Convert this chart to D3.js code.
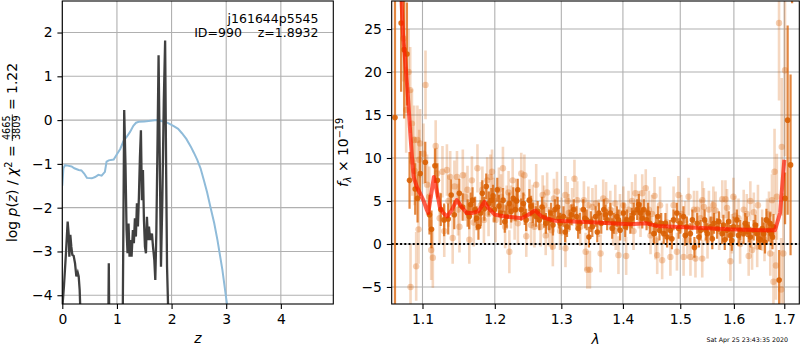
<!DOCTYPE html>
<meta charset="utf-8">
<body style="margin:0;background:#fff">
<script src="https://d3js.org/d3.v7.min.js"></script>
<script>
  // ---- left panel: p(z) ----
  var pzZ = [0.0, 0.02, 0.05, 0.1, 0.17, 0.22, 0.3, 0.35, 0.4, 0.45, 0.54, 0.6, 0.66, 0.72, 0.78, 0.81,
    0.85, 0.94, 1.0, 1.06, 1.12, 1.18, 1.24, 1.3, 1.35, 1.4, 1.5, 1.58, 1.73, 1.85, 1.92, 2.04, 2.12,
    2.19, 2.27, 2.35, 2.41, 2.47, 2.53, 2.59, 2.65, 2.71, 2.78, 2.84, 2.93, 3.0, 3.02];
  var pzLog = [-1.5, -1.1, -1.03, -1.04, -1.06, -1.1, -1.14, -1.15, -1.22, -1.32, -1.33, -1.3, -1.25,
    -1.27, -1.18, -0.95, -0.92, -0.9, -0.78, -0.66, -0.48, -0.38, -0.27, -0.13, -0.06, -0.04, -0.03,
    -0.02, 0.0, -0.03, -0.06, -0.14, -0.2, -0.3, -0.43, -0.6, -0.75, -0.91, -1.1, -1.37, -1.65, -1.98,
    -2.35, -2.74, -3.42, -4.07, -4.25];

  var chiZ = [0.0, 0.03, 0.067, 0.098, 0.116, 0.129, 0.147, 0.165, 0.184, 0.208, 0.233, 0.257, 0.282,
    0.3, 0.318, 0.33, 0.343, 0.45, 0.8, 0.84, 0.851, 0.862, 0.95, 1.084, 1.108, 1.133, 1.157, 1.176,
    1.194, 1.212, 1.231, 1.249, 1.268, 1.292, 1.31, 1.329, 1.347, 1.366, 1.384, 1.402, 1.421, 1.439,
    1.457, 1.476, 1.494, 1.513, 1.531, 1.549, 1.568, 1.586, 1.61, 1.641, 1.66, 1.684, 1.702, 1.721,
    1.745, 1.762, 1.782, 1.806, 1.831, 1.858, 1.882, 1.9, 1.917, 1.935, 1.953];
  var chiLog = [-4.3, -3.8, -3.04, -2.32, -2.59, -3.12, -2.62, -2.89, -3.08, -3.1, -3.27, -3.57, -3.48,
    -3.57, -3.88, -4.33, -4.87, -8, -8, -5, -3.27, -5, -8, -6, -4.2, 0.23, -1.06, -2.51,
    -3.04, -2.36, -3.12, -2.74, -3.12, -2.51, -2.81, -2.24, -2.66, -1.9, -2.43, -1.75, -0.84, -0.23,
    -1.83, -1.14, -2.28, -2.89, -3.04, -2.21, -2.74, -2.43, -2.74, -2.59, -2.89, -3.19, -3.65, -2.59,
    -0.3, 1.48, -0.68, -3.35, -1.83, 0.46, 1.82, -1.06, -3.35, -4.2, -8];

  var zTicks = [0, 1, 2, 3, 4];
  var pzTicks = [-4, -3, -2, -1, 0, 1, 2];

  // ---- right panel: spectrum ----
  var modelWave = [1.0720, 1.0745, 1.0790, 1.0818, 1.0840, 1.0862, 1.0883, 1.0927, 1.0967, 1.1011,
    1.1056, 1.1077, 1.1152, 1.1188, 1.1232, 1.1279, 1.1331, 1.1391, 1.1463, 1.1532, 1.1601, 1.1671,
    1.1765, 1.1851, 1.1906, 1.2003, 1.2149, 1.2394, 1.2492, 1.2595, 1.2697, 1.2798, 1.2900, 1.3565,
    1.4120, 1.4407, 1.4581, 1.5299, 1.5925, 1.6577, 1.6811, 1.6914, 1.7001];
  var modelFlux = [29.5, 24.5, 19.5, 16.0, 12.8, 10.1, 7.8, 6.6, 5.9, 5.1,
    4.0, 3.6, 7.8, 6.3, 4.3, 3.6, 3.2, 3.9, 5.1, 4.3, 3.6, 3.6,
    3.8, 4.9, 4.2, 3.4, 3.2, 3.0, 3.4, 3.9, 3.2, 2.9, 2.7, 2.5,
    2.3, 2.4, 2.1, 1.9, 1.7, 1.6, 1.6, 3.6, 9.8];

  var darkWave = [1.0642, 1.0721, 1.0760, 1.0796, 1.0830, 1.0904, 1.0935, 1.0970, 1.1037, 1.1093,
    1.1120, 1.1166, 1.1199, 1.1245, 1.1290, 1.1346, 1.1387, 1.1429, 1.1498, 1.1545,
    1.1614, 1.1636, 1.1683, 1.1719, 1.1766, 1.1798, 1.1821, 1.1877, 1.1913, 1.1950,
    1.1996, 1.2036, 1.2086, 1.2120, 1.2171, 1.2210, 1.2270, 1.2300, 1.2336, 1.2386,
    1.2420, 1.2461, 1.2510, 1.2561, 1.2611, 1.2660, 1.2701, 1.2761, 1.2810, 1.2870,
    1.2900, 1.2942, 1.2982, 1.3034, 1.3089, 1.3131, 1.3196, 1.3240, 1.3293, 1.3348,
    1.3402, 1.3439, 1.3494, 1.3548, 1.3601, 1.3640, 1.3682, 1.3737, 1.3791, 1.3845,
    1.3899, 1.3953, 1.4009, 1.4068, 1.4125, 1.4183, 1.4242, 1.4299, 1.4357, 1.4404,
    1.4461, 1.4531, 1.4601, 1.4660, 1.4705, 1.4764, 1.4821, 1.4879, 1.4938, 1.5000,
    1.5058, 1.5120, 1.5183, 1.5258, 1.5309, 1.5371, 1.5447, 1.5497, 1.5559, 1.5621,
    1.5713, 1.5776, 1.5825, 1.5870, 1.5931, 1.5993, 1.6057, 1.6123, 1.6188, 1.6255,
    1.6321, 1.6386, 1.6453, 1.6519, 1.6584, 1.6638, 1.6683, 1.6737, 1.6782, 1.6895,
    1.7016, 1.7069, 1.7129, 1.7160];
  var darkFlux = [14.7, 25.7, 22.6, 22.1, 7.4, 6.4, 5.3, 8.2, 9.5, 3.4,
    1.7, 9.1, 7.4, 4.0, 2.8, 2.9, 5.7, 3.4, 5.9, 4.3,
    3.6, 3.2, 5.1, 4.0, 2.0, 3.6, 5.9, 6.7, 4.7, 5.1,
    4.0, 6.3, 3.6, 5.1, 3.2, 4.7, 5.3, 4.0, 6.3, 4.0,
    4.7, 2.8, 5.1, 3.6, 3.2, 2.8, 4.3, 2.4, 2.8, 2.2,
    4.0, 4.3, 2.4, 3.2, 2.0, 2.8, 4.0, 3.2, 2.4, 4.0,
    2.8, 0.8, 2.0, 3.2, 3.6, 2.4, 4.0, 2.8, 3.6, 2.4,
    3.2, 1.6, 3.6, 2.8, 2.4, 3.6, 4.0, 3.6, 4.0, 2.8,
    2.4, 1.2, 3.2, 2.4, 1.2, 0.8, 1.6, 2.8, 3.6, 2.4,
    3.2, 2.0, 1.2, -0.4, 2.4, 1.6, 2.8, 1.2, 2.0, 2.4,
    2.6, 1.2, 0.5, 1.6, 1.0, 2.0, 2.8, 1.6, 1.2, 2.0,
    0.8, 1.6, 1.2, 0.5, 1.2, 2.8, 1.6, 1.2, 2.0, -4.2,
    5.3, 14.4, 9.2, 35];
  var darkErr = [30, 8, 8, 6, 3.3, 3.0, 2.8, 2.6, 2.4, 2.3,
    2.2, 2.0, 2.0, 1.9, 1.9, 1.8, 1.8, 1.7, 1.7, 1.6,
    1.6, 1.5, 1.5, 1.5, 1.5, 1.5, 1.5, 1.5, 1.4, 1.4,
    1.4, 1.4, 1.4, 1.4, 1.3, 1.3, 1.3, 1.3, 1.3, 1.3,
    1.3, 1.3, 1.3, 1.2, 1.2, 1.2, 1.2, 1.2, 1.2, 1.2,
    1.2, 1.2, 1.2, 1.2, 1.2, 1.2, 1.2, 1.2, 1.2, 1.2,
    1.2, 1.2, 1.2, 1.2, 1.2, 1.2, 1.2, 1.2, 1.2, 1.2,
    1.2, 1.2, 1.2, 1.2, 1.2, 1.2, 1.2, 1.2, 1.2, 1.2,
    1.2, 1.2, 1.2, 1.2, 1.2, 1.2, 1.2, 1.2, 1.2, 1.2,
    1.2, 1.2, 1.2, 1.2, 1.2, 1.2, 1.2, 1.2, 1.2, 1.2,
    1.2, 1.2, 1.2, 1.2, 1.2, 1.2, 1.2, 1.2, 1.2, 1.2,
    1.2, 1.2, 1.2, 1.2, 1.3, 1.3, 1.3, 1.4, 1.5, 3.5,
    3.0, 11, 10.5, 7];

  // second set of binned points, interleaved with the first
  var darkWaveB = [1.1655, 1.1740, 1.1850, 1.1975, 1.2060, 1.2145, 1.2240, 1.2320, 1.2440, 1.2535,
    1.2635, 1.2735, 1.2840, 1.2960, 1.3060, 1.3160, 1.3265, 1.3375, 1.3470, 1.3575,
    1.3710, 1.3820, 1.3925, 1.4040, 1.4150, 1.4270, 1.4330, 1.4430, 1.4565, 1.4630,
    1.4735, 1.4850, 1.4970, 1.5090, 1.5220, 1.5340, 1.5470, 1.5590, 1.5680, 1.5800,
    1.5900, 1.5960, 1.6090, 1.6220, 1.6290, 1.6420, 1.6490, 1.6555, 1.6610, 1.6710,
    1.6760];
  var darkFluxB = [4.6, 3.0, 4.1, 5.6, 4.4, 2.6, 3.8, 5.0, 3.4, 4.4,
    3.8, 3.1, 3.6, 3.0, 1.4, 3.4, 1.8, 3.0, 2.6, 1.4,
    3.4, 1.8, 2.8, 2.0, 3.0, 4.6, 3.0, 3.6, 2.2, 1.6,
    2.4, 0.6, 1.8, 1.0, 2.8, 0.8, 1.6, 0.6, 1.8, 2.2,
    2.6, 0.4, 1.0, 2.4, 1.4, 2.2, 0.6, 1.8, 0.2, 2.4,
    0.8];
  var darkErrB = [1.4, 1.4, 1.4, 1.3, 1.3, 1.3, 1.3, 1.3, 1.2, 1.2,
    1.2, 1.2, 1.2, 1.2, 1.2, 1.2, 1.2, 1.2, 1.2, 1.2,
    1.2, 1.2, 1.2, 1.2, 1.2, 1.2, 1.2, 1.2, 1.2, 1.2,
    1.2, 1.2, 1.2, 1.2, 1.2, 1.2, 1.2, 1.2, 1.2, 1.2,
    1.2, 1.2, 1.2, 1.2, 1.2, 1.2, 1.2, 1.3, 1.3, 1.3,
    1.4];

  var lightWave = [1.0751, 1.0786, 1.0817, 1.0839, 1.0843, 1.0861, 1.0865, 1.0891, 1.0897, 1.0917,
    1.0933, 1.0948, 1.0956, 1.0968, 1.1014, 1.1040, 1.1061, 1.1116, 1.1138, 1.1176,
    1.1195, 1.1268, 1.1292, 1.1328, 1.1373, 1.1407, 1.1431, 1.1466, 1.1500, 1.1547,
    1.1612, 1.1638, 1.1674, 1.1752, 1.1822, 1.1844, 1.1891, 1.1937, 1.1960, 1.1983,
    1.2011, 1.2060, 1.2118, 1.2150, 1.2173, 1.2212, 1.2236, 1.2261, 1.2311, 1.2338,
    1.2388, 1.2435, 1.2463, 1.2512, 1.2536, 1.2586, 1.2613, 1.2711, 1.2735, 1.2758,
    1.2808, 1.2850, 1.2868, 1.2885, 1.2932, 1.3008, 1.3062, 1.3065, 1.3115, 1.3170,
    1.3207, 1.3251, 1.3358, 1.3386, 1.3413, 1.3455, 1.3496, 1.3550, 1.3629, 1.3672,
    1.3789, 1.3835, 1.3872, 1.3925, 1.3951, 1.4008, 1.4055, 1.4095, 1.4155, 1.4212,
    1.4270, 1.4329, 1.4444, 1.4473, 1.4543, 1.4560, 1.4590, 1.4677, 1.4823, 1.4940,
    1.4966, 1.5060, 1.5090, 1.5151, 1.5185, 1.5277, 1.5307, 1.5402, 1.5404, 1.5432,
    1.5526, 1.5589, 1.5651, 1.5778, 1.5838, 1.5868, 1.5933, 1.5963, 1.6024, 1.6089,
    1.6190, 1.6287, 1.6354, 1.6388, 1.6455, 1.6552, 1.6651, 1.6716, 1.6750, 1.6780,
    1.6802, 1.6849, 1.6893, 1.6935, 1.6948, 1.6980, 1.7014,
    1.1090, 1.1230, 1.1350, 1.1480, 1.1580, 1.1700, 1.1800, 1.1910, 1.2090, 1.2200,
    1.2290, 1.2410, 1.2560, 1.2680, 1.2780, 1.2980, 1.3100, 1.3300, 1.3430, 1.3600,
    1.3720, 1.3880, 1.4030, 1.4180, 1.4300, 1.4390, 1.4500, 1.4640, 1.4760, 1.4880,
    1.5020, 1.5130, 1.5250, 1.5370, 1.5500, 1.5610, 1.5720, 1.5990, 1.6120, 1.6250,
    1.6320, 1.6470, 1.6600, 1.6690, 1.6830];
  var lightFlux = [23.9, 15.6, 20.0, 17.9, -5.0, 14.0, 9.6, 12.1, 8.5, -2.6,
    12.1, 1.7, 9.8, 11.7, 10.5, 18.5, 6.9, -0.7, -1.6, 11.4,
    8.2, 8.4, 1.5, 8.6, 7.8, 0.7, 6.7, 7.8, 2.0, 8.0,
    6.3, 0.5, 7.4, 8.8, 6.3, 2.8, 7.4, 7.8, 8.4, 5.1,
    2.8, 6.3, 8.8, 2.0, 4.3, -0.9, 4.3, 7.4, 5.1, 2.4,
    8.2, 8.0, 0.9, 5.1, 2.2, 2.0, 6.9, 5.7, 4.5, 1.0,
    2.0, 1.6, -0.3, 5.3, 6.1, 3.2, 5.7, -0.5, 3.6, 4.3,
    7.6, 5.1, 5.1, -0.9, -3.0, -3.0, 4.3, 4.7, -1.1, 5.3,
    4.0, 2.0, 4.7, -1.3, 3.6, 4.5, -1.4, 4.0, 5.0, 5.9,
    4.0, 5.9, 4.0, 1.0, 5.6, 0.4, -1.3, -1.9, -1.5, -0.9,
    5.7, -1.5, 2.8, 5.5, -1.5, -1.7, 4.0, -1.7, 5.1, 4.3,
    4.0, 2.8, 3.9, 5.2, 5.2, 4.2, -2.0, 1.2, 3.3, 3.0,
    4.0, -1.4, -0.7, 3.7, -0.3, 1.6, 2.8, -1.1, 5.1, -4.4,
    8.4, 5.5, 25.7, -5.3, 11.3, -1.1, 20.2,
    5.5, 3.0, 5.0, 4.0, 5.5, 2.5, 4.5, 3.5, 5.5, 6.0,
    3.0, 5.5, 4.5, 2.0, 6.0, 1.5, 5.0, 2.0, 4.5, 3.0,
    5.0, 1.5, 2.5, 1.5, 3.0, 6.5, 3.5, 4.5, 2.5, 4.5,
    3.5, 0.5, 4.0, 3.0, 0.5, 4.5, 1.5, 5.5, 0.0, 3.5,
    5.0, 4.5, 0.5, 3.5, -2.5];
  var lightErr = [5, 5, 5, 5, 5, 4, 4, 4, 4, 4,
    4, 4, 3.5, 4, 3.5, 4, 3.5, 3.5, 3.5, 3,
    3, 3, 3, 3, 3, 3, 3, 3, 3, 3,
    2.8, 2.8, 2.8, 2.8, 2.7, 2.7, 2.7, 2.6, 2.6, 2.6,
    2.6, 2.6, 2.5, 2.5, 2.5, 2.5, 2.5, 2.5, 2.5, 2.5,
    2.4, 2.4, 2.4, 2.4, 2.4, 2.4, 2.4, 2.3, 2.3, 2.3,
    2.3, 2.3, 2.3, 2.3, 2.3, 2.2, 2.2, 2.2, 2.2, 2.2,
    2.2, 2.2, 2.2, 2.2, 2.2, 2.2, 2.2, 2.2, 2.2, 2.2,
    2.2, 2.2, 2.2, 2.2, 2.2, 2.2, 2.2, 2.2, 2.2, 2.2,
    2.2, 2.2, 2.2, 2.2, 2.2, 2.2, 2.2, 2.2, 2.2, 2.2,
    2.2, 2.2, 2.2, 2.2, 2.2, 2.2, 2.2, 2.2, 2.2, 2.2,
    2.2, 2.2, 2.2, 2.2, 2.2, 2.2, 2.3, 2.3, 2.3, 2.3,
    2.3, 2.3, 2.3, 2.3, 2.4, 2.4, 2.5, 2.6, 3, 3.5,
    5, 5, 9, 6, 8, 7, 10,
    3.5, 3, 3, 3, 2.8, 2.8, 2.7, 2.6, 2.6, 2.5,
    2.5, 2.4, 2.4, 2.3, 2.3, 2.2, 2.2, 2.2, 2.2, 2.2,
    2.2, 2.2, 2.2, 2.2, 2.2, 2.2, 2.2, 2.2, 2.2, 2.2,
    2.2, 2.2, 2.2, 2.2, 2.2, 2.2, 2.2, 2.2, 2.3, 2.3,
    2.3, 2.4, 2.5, 2.6, 4];

  var waveTicks = [1.1, 1.2, 1.3, 1.4, 1.5, 1.6, 1.7];
  var fluxTicks = [-5, 0, 5, 10, 15, 20, 25];

  var orange = "#d95f02";

  var svg = d3.select("body").append("svg")
          .attr("width", 800)
          .attr("height", 350)
          .style("font-family", "DejaVu Sans")
          .style("display", "block");
  svg.append("rect").attr("width", 800).attr("height", 350).attr("fill", "#fff");

  var L = {x0: 62.3, x1: 333.3, y0: 1, y1: 304};
  var R = {x0: 391.7, x1: 799.3, y0: 1, y1: 304};

  var xz = d3.scaleLinear().domain([0, 4.96]).range([L.x0, L.x1]);
  var yp = d3.scaleLinear().domain([-4.2, 2.72]).range([L.y1, L.y0]);
  var xw = d3.scaleLog().domain([1.06, 1.731]).range([R.x0, R.x1]);
  var yf = d3.scaleLinear().domain([-6.98, 28.26]).range([R.y1, R.y0]);

  var defs = svg.append("defs");
  [["clipL", L], ["clipR", R]].forEach(function(c) {
    defs.append("clipPath").attr("id", c[0]).append("rect")
        .attr("x", c[1].x0).attr("y", c[1].y0)
        .attr("width", c[1].x1 - c[1].x0).attr("height", c[1].y1 - c[1].y0);
  });

  // grid
  function grid(box, xs, xt, ys, yt) {
    var g = svg.append("g").attr("stroke", "#b0b0b0").attr("stroke-width", 1.1);
    g.selectAll(".gx").data(xt).enter().append("line")
        .attr("x1", function(d) { return xs(d); }).attr("x2", function(d) { return xs(d); })
        .attr("y1", box.y0).attr("y2", box.y1);
    g.selectAll(".gy").data(yt).enter().append("line")
        .attr("y1", function(d) { return ys(d); }).attr("y2", function(d) { return ys(d); })
        .attr("x1", box.x0).attr("x2", box.x1);
  }
  grid(L, xz, zTicks, yp, pzTicks);
  grid(R, xw, waveTicks, yf, fluxTicks);

  // left panel lines
  var gL = svg.append("g").attr("clip-path", "url(#clipL)");
  gL.append("path")
      .datum(d3.range(pzZ.length))
      .attr("fill", "none").attr("stroke", "#8fbbd9").attr("stroke-width", 2)
      .attr("d", d3.line().x(function(i) { return xz(pzZ[i]); }).y(function(i) { return yp(pzLog[i]); }));
  gL.append("path")
      .datum(d3.range(chiZ.length))
      .attr("fill", "none").attr("stroke", "#404040").attr("stroke-width", 2.3)
      .attr("d", d3.line().x(function(i) { return xz(chiZ[i]); }).y(function(i) { return yp(chiLog[i]); }));

  // right panel points
  var gR = svg.append("g").attr("clip-path", "url(#clipR)");
  function errPoints(wave, flux, err, barOp, dotOp, bw, r) {
    var idx = d3.range(wave.length);
    var g = gR.append("g");
    g.selectAll(".bar").data(idx).enter().append("line")
        .attr("x1", function(i) { return xw(wave[i]); }).attr("x2", function(i) { return xw(wave[i]); })
        .attr("y1", function(i) { return yf(flux[i] - err[i]); })
        .attr("y2", function(i) { return yf(flux[i] + err[i]); })
        .attr("stroke", orange).attr("stroke-width", bw).attr("stroke-opacity", barOp);
    g.selectAll(".dot").data(idx).enter().append("circle")
        .attr("cx", function(i) { return xw(wave[i]); })
        .attr("cy", function(i) { return yf(flux[i]); })
        .attr("r", r).attr("fill", orange).attr("fill-opacity", dotOp);
  }
  errPoints(lightWave, lightFlux, lightErr, 0.25, 0.3, 2.6, 3.2);
  errPoints(darkWave, darkFlux, darkErr, 0.75, 0.9, 2.2, 2.8);
  errPoints(darkWaveB, darkFluxB, darkErrB, 0.75, 0.9, 2.2, 2.8);

  gR.append("path")
      .datum(d3.range(modelWave.length))
      .attr("fill", "none").attr("stroke", "#ff1a00").attr("stroke-opacity", 0.7)
      .attr("stroke-width", 4).attr("stroke-linejoin", "round")
      .attr("d", d3.line().x(function(i) { return xw(modelWave[i]); }).y(function(i) { return yf(modelFlux[i]); }));

  svg.append("line")
      .attr("x1", R.x0).attr("x2", R.x1).attr("y1", yf(0)).attr("y2", yf(0))
      .attr("stroke", "#000").attr("stroke-width", 2).attr("stroke-dasharray", "2,2.2");

  // axes
  function axes(box, xs, xt, xf, ys, yt) {
    var ax = svg.append("g").attr("transform", "translate(0," + box.y1 + ")")
        .call(d3.axisBottom(xs).tickValues(xt).tickFormat(xf).tickSize(4.9).tickPadding(4.9));
    var ay = svg.append("g").attr("transform", "translate(" + box.x0 + ",0)")
        .call(d3.axisLeft(ys).tickValues(yt).tickFormat(d3.format("d")).tickSize(4.9).tickPadding(4.9));
    [ax, ay].forEach(function(a) {
      a.select(".domain").remove();
      a.selectAll("line").attr("stroke", "#000").attr("stroke-width", 1.1);
      a.selectAll("text").attr("font-size", 13.9).attr("font-family", "DejaVu Sans").attr("fill", "#000");
    });
    svg.append("rect").attr("x", box.x0).attr("y", box.y0)
        .attr("width", box.x1 - box.x0).attr("height", box.y1 - box.y0)
        .attr("fill", "none").attr("stroke", "#000").attr("stroke-width", 1.1);
  }
  axes(L, xz, zTicks, d3.format("d"), yp, pzTicks);
  axes(R, xw, waveTicks, d3.format(".1f"), yf, fluxTicks);

  // annotation
  svg.append("text").attr("x", 318.5).attr("y", 23).attr("text-anchor", "end")
      .attr("font-size", 12.5).text("j161644p5545");
  svg.append("text").attr("x", 318.5).attr("y", 37).attr("text-anchor", "end")
      .attr("font-size", 12.5).style("white-space", "pre").text("ID=990    z=1.8932");

  // x labels
  svg.append("text").attr("x", (L.x0 + L.x1) / 2).attr("y", 343).attr("text-anchor", "middle")
      .attr("font-size", 13.9).attr("font-style", "italic").text("z");
  svg.append("text").attr("x", (R.x0 + R.x1) / 2).attr("y", 344).attr("text-anchor", "middle")
      .attr("font-size", 13.9).attr("font-style", "italic").text("λ");

  // left y label with fraction
  var gl = svg.append("g");
  var t1 = gl.append("text").attr("font-size", 13.9).style("white-space", "pre");
  t1.append("tspan").text("log ");
  t1.append("tspan").attr("font-style", "italic").text("p");
  t1.append("tspan").text("(");
  t1.append("tspan").attr("font-style", "italic").text("z");
  t1.append("tspan").text(") / ");
  t1.append("tspan").attr("font-style", "italic").text("χ");
  t1.append("tspan").attr("font-size", 9.7).attr("dy", -5.5).text("2");
  t1.append("tspan").attr("dy", 5.5).text(" = ");
  var w1 = t1.node().getComputedTextLength();
  var num = gl.append("text").attr("font-size", 9.7).attr("y", -6.8).text("4665");
  var den = gl.append("text").attr("font-size", 9.7).attr("y", 3.2).text("3809");
  var fw = Math.max(num.node().getComputedTextLength(), den.node().getComputedTextLength()) + 2;
  num.attr("x", w1 + fw / 2).attr("text-anchor", "middle");
  den.attr("x", w1 + fw / 2).attr("text-anchor", "middle");
  gl.append("line").attr("x1", w1).attr("x2", w1 + fw).attr("y1", -4.7).attr("y2", -4.7)
      .attr("stroke", "#000").attr("stroke-width", 0.8);
  var t2 = gl.append("text").attr("font-size", 13.9).attr("x", w1 + fw).style("white-space", "pre").text(" = 1.22");
  var total = w1 + fw + t2.node().getComputedTextLength();
  gl.attr("transform", "translate(17," + ((L.y0 + L.y1) / 2) + ") rotate(-90) translate(" + (-total / 2) + ",0)");

  // right y label
  var gr = svg.append("g").attr("transform", "translate(348," + ((R.y0 + R.y1) / 2) + ") rotate(-90)");
  var t3 = gr.append("text").attr("font-size", 13.9).attr("text-anchor", "middle").style("white-space", "pre");
  t3.append("tspan").attr("font-style", "italic").text("f");
  t3.append("tspan").attr("font-style", "italic").attr("font-size", 9.7).attr("dy", 3).text("λ");
  t3.append("tspan").attr("dy", -3).text(" × 10");
  t3.append("tspan").attr("font-size", 9.7).attr("dy", -5.5).text("−19");

  // timestamp
  svg.append("text").attr("x", 788).attr("y", 342).attr("text-anchor", "end")
      .attr("font-size", 6.3).text("Sat Apr 25 23:43:35 2020");
</script>
</body>
